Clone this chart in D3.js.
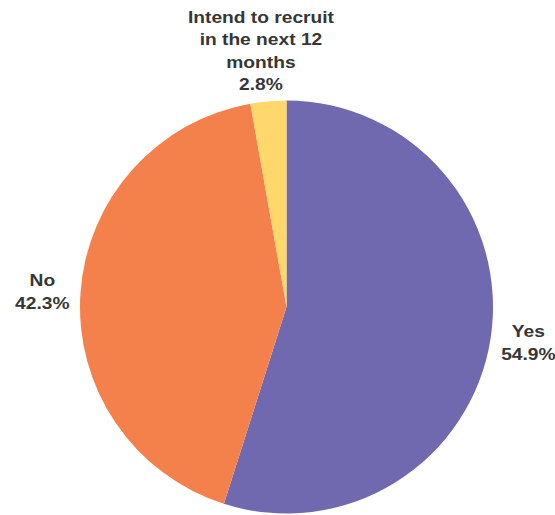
<!DOCTYPE html>
<html>
<head>
<meta charset="utf-8">
<script src="https://cdn.jsdelivr.net/npm/d3@7/dist/d3.min.js"></script>
<style>
  html, body { margin: 0; padding: 0; background: #ffffff; }
  svg { display: block; }
</style>
</head>
<body>
<svg id="chart" width="555" height="515"></svg>
<script>
// Survey answers, clockwise from twelve o'clock
const categories = ["Yes", "No", "Intend to recruit in the next 12 months"];
const labelLines = [["Yes"], ["No"], ["Intend to recruit", "in the next 12", "months"]];
const values = [54.9, 42.3, 2.8];
const colors = ["#7169b0", "#f4804b", "#fed86a"];

const width = 555, height = 515;
const cx = 286.5, cy = 307, radius = 206.5;
const lineHeight = 22.5;
const xStretch = 1.2;

const svg = d3.select("#chart");
const g = svg.append("g").attr("transform", `translate(${cx},${cy})`);

const data = categories.map((c, i) => ({ category: c, value: values[i], lines: labelLines[i], color: colors[i] }));

const pie = d3.pie().sort(null).value(d => d.value);
const arc = d3.arc().innerRadius(0).outerRadius(radius);
const arcs = pie(data);

g.selectAll("path.slice")
  .data(arcs)
  .join("path")
  .attr("class", "slice")
  .attr("d", arc)
  .attr("fill", d => d.data.color);

// Labels sit just outside the rim, pushed away from the pie along the mid angle
const gap = 11;
const fmt = d3.format(".1f");
arcs.forEach(a => {
  const mid = (a.startAngle + a.endAngle) / 2;
  const s = Math.sin(mid), c = -Math.cos(mid);
  const ax = (radius + gap) * s, ay = (radius + gap) * c;
  const lines = a.data.lines.concat([fmt(a.data.value) + "%"]);

  const label = g.append("g");
  const text = label.append("text")
    .attr("text-anchor", "middle")
    .attr("font-family", "'Liberation Sans', Arial, sans-serif")
    .attr("font-weight", "bold")
    .attr("font-size", 16)
    .attr("fill", "#363636");
  lines.forEach((ln, i) => {
    text.append("tspan").attr("x", 0).attr("y", i * lineHeight).text(ln);
  });
  const bb = text.node().getBBox();
  const w = bb.width * xStretch, h = (lines.length - 1) * lineHeight + 11.5;
  // centre of the text block, offset from the anchor point
  const bx = ax + s * w / 2;
  const by = ay + c * h / 2;
  const firstBaseline = by - h / 2 + 11.5;
  label.attr("transform", `translate(${bx},${firstBaseline}) scale(${xStretch},1)`);
});
</script>
</body>
</html>
